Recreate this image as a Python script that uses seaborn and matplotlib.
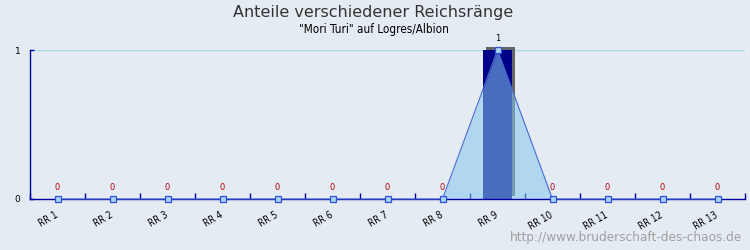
import matplotlib
matplotlib.use("Agg")
import matplotlib.pyplot as plt
import matplotlib.patheffects as pe
import seaborn as sns
import pandas as pd
import numpy as np

categories = ["RR 1", "RR 2", "RR 3", "RR 4", "RR 5", "RR 6", "RR 7",
              "RR 8", "RR 9", "RR 10", "RR 11", "RR 12", "RR 13"]
bar_values = [0, 0, 0, 0, 0, 0, 0, 0, 1, 0, 0, 0, 0]
line_values = [0, 0, 0, 0, 0, 0, 0, 0, 1, 0, 0, 0, 0]
title = "Anteile verschiedener Reichsränge"
subtitle = "\"Mori Turi\" auf Logres/Albion"
watermark = "http://www.bruderschaft-des-chaos.de"

BG = "#e4ebf3"
AXC = "#0000a0"

df = pd.DataFrame({"cat": categories, "bar": bar_values, "line": line_values})
df["pos"] = np.arange(len(categories))

fig = plt.figure(figsize=(7.5, 2.5), dpi=100, facecolor=BG)
ax = fig.add_axes([30/750, 51/250, 715/750, 149/250])
ax.set_facecolor(BG)

sns.barplot(data=df, x="cat", y="bar", ax=ax, color="#000088", width=0.53,
            saturation=1, zorder=2)
for p in ax.patches:
    p.set_clip_on(False)
    p.set_path_effects([pe.SimplePatchShadow(offset=(2.2, 2.2), shadow_rgbFace="#666666", alpha=1.0),
                        pe.Normal()])

ax.fill_between(df["pos"], 0, df["line"], color="#86c6ee", alpha=0.55, lw=0, zorder=3)
sns.lineplot(data=df, x="pos", y="line", ax=ax, color="#4a6ad0", lw=0.8,
             marker="s", markersize=5, markerfacecolor="#a8d4f0",
             markeredgecolor="#3050e0", markeredgewidth=0.9, zorder=5, clip_on=False)

for i, v in enumerate(line_values):
    ax.annotate(str(v), (i, v), xytext=(0, 8.6), textcoords="offset points",
                ha="center", va="center", fontsize=6,
                color="#b00000" if v == 0 else "black", zorder=6)

ax.set_xlim(-0.5, len(categories) - 0.5)
ax.set_ylim(0, 1)
ax.axhline(1, color="#a8dcea", lw=1, zorder=1)

ax.set_xticks(range(len(categories)))
ax.set_xticklabels(categories, rotation=30, ha="right", va="center", rotation_mode="anchor",
                   fontsize=7, fontstretch="condensed", color="black")
ax.tick_params(axis="x", length=0, pad=11)
ax.set_xticks(np.arange(-0.5, len(categories)), minor=True)
ax.tick_params(axis="x", which="minor", direction="in", length=4, color=AXC, width=1)
ax.set_yticks([0, 1])
ax.set_yticklabels(["0", "1"], fontsize=6.5, color="black")
ax.tick_params(axis="y", direction="in", length=3, color=AXC, width=1, pad=7)
ax.set_xlabel("")
ax.set_ylabel("")
for s in ["top", "right"]:
    ax.spines[s].set_visible(False)
for s in ["left", "bottom"]:
    ax.spines[s].set_color(AXC)
    ax.spines[s].set_linewidth(1)
    ax.spines[s].set_zorder(4)

fig.text(373/750, 1 - 12/250, title, ha="center", va="center", fontsize=11.5, color="#333333")
fig.text(374/750, 1 - 29.5/250, subtitle, ha="center", va="center", fontsize=8.4,
         fontstretch="condensed", color="black")
fig.text(742/750, 1 - 238/250, watermark, ha="right", va="center", fontsize=8.7, color="#a0a0a0")

fig.savefig("out.png", dpi=100, facecolor=BG)
